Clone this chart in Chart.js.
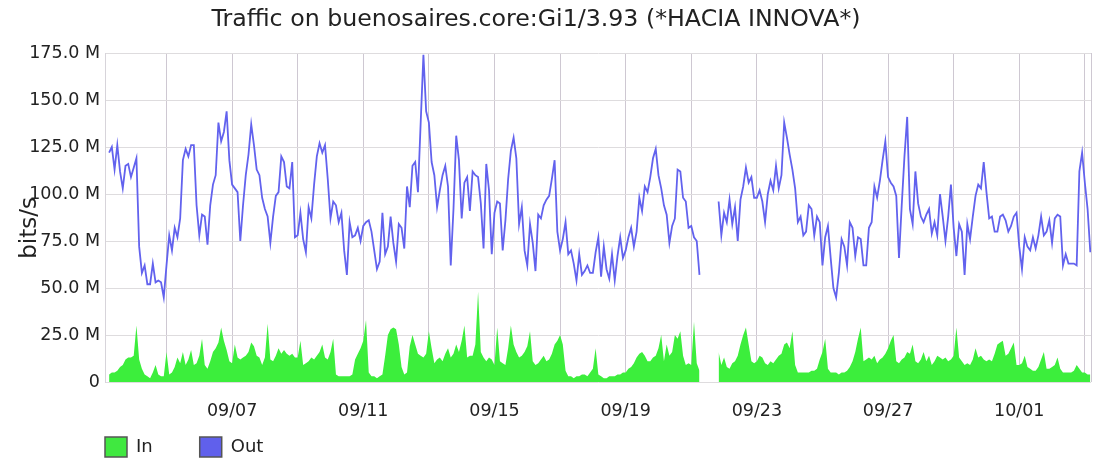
<!DOCTYPE html>
<html>
<head>
<meta charset="utf-8">
<title>Traffic on buenosaires.core:Gi1/3.93</title>
<script src="https://cdn.jsdelivr.net/npm/chart.js@4/dist/chart.umd.min.js"></script>
<style>
  html, body { margin: 0; padding: 0; background: #fff; }
</style>
</head>
<body>
<canvas id="trafficChart" width="1094" height="460"></canvas>
<script>
// samples every 2 hours, first one at 09/03 06:00 (hours counted from 09/03 00:00)
var firstSampleHour = 6;
var sampleStepHours = 2;

// Mbit/s, one row per day
var inTraffic = [
  4, 5, 5, 6, 8, 9, 12, 13, 13, 14, 30, 12,
  7, 4, 3, 2, 5, 9, 4, 3, 3, 16, 4, 5,
  8, 13, 10, 16, 9, 12, 17, 9, 10, 14, 23, 9,
  7, 11, 16, 18, 21, 29, 22, 17, 11, 10, 20, 13,
  12, 13, 14, 16, 21, 19, 14, 13, 9, 13, 31, 12,
  11, 14, 18, 15, 17, 15, 14, 15, 13, 13, 22, 9,
  10, 11, 13, 12, 14, 16, 20, 13, 12, 16, 23, 4,
  3, 3, 3, 3, 3, 4, 12, 15, 18, 22, 33, 5,
  3, 3, 2, 3, 4, 14, 25, 28, 29, 28, 20, 8,
  4, 5, 19, 25, 20, 15, 14, 13, 15, 27, 18, 10,
  12, 13, 11, 15, 18, 13, 15, 20, 16, 22, 30, 13,
  14, 14, 20, 48, 16, 13, 11, 13, 12, 9, 29, 11,
  10, 9, 18, 30, 20, 16, 13, 14, 16, 19, 27, 11,
  9, 10, 12, 14, 11, 12, 15, 20, 22, 25, 20, 6,
  3, 3, 2, 3, 3, 4, 4, 3, 5, 7, 18, 4,
  3, 2, 2, 3, 3, 3, 4, 4, 5, 5, 7, 8,
  10, 13, 15, 16, 14, 11, 11, 13, 14, 18, 25, 11,
  20, 14, 16, 25, 23, 27, 14, 9, 10, 9, 32, 10,
  6, null, null, null, null, null, null, 16, 9, 13, 8, 7,
  10, 11, 14, 20, 25, 29, 20, 11, 10, 11, 14, 13,
  10, 9, 11, 10, 12, 14, 15, 20, 21, 18, 27, 9,
  5, 5, 5, 5, 5, 6, 6, 7, 12, 16, 23, 7,
  5, 5, 5, 4, 5, 5, 6, 8, 11, 16, 23, 29,
  11, 12, 13, 12, 14, 10, 12, 13, 15, 18, 22, 25,
  11, 10, 12, 13, 16, 15, 20, 11, 10, 12, 16, 11,
  14, 9, 11, 14, 13, 12, 13, 11, 12, 14, 29, 13,
  11, 9, 10, 9, 12, 18, 13, 14, 12, 11, 12, 11,
  15, 20, 21, 22, 14, 15, 18, 21, 9, 9, 10, 14,
  8, 7, 6, 6, 8, 12, 16, 7, 7, 8, 9, 13,
  7, 5, 5, 5, 5, 6, 9, 7, 5, 5, 4, 4
];

var outTraffic = [
  122, 125, 113, 126, 112, 103, 115, 116, 109, 114, 119, 72,
  58, 62, 52, 52, 63, 53, 54, 53, 45, 62, 78, 70,
  82, 77, 87, 118, 124, 120, 126, 126, 94, 78, 89, 88,
  73, 94, 105, 110, 138, 128, 133, 144, 118, 105, 103, 101,
  75, 94, 110, 121, 137, 126, 113, 110, 98, 92, 88, 74,
  88, 99, 101, 120, 117, 104, 103, 117, 77, 78, 90, 76,
  69, 93, 87, 105, 120, 127, 122, 126, 108, 87, 96, 94,
  85, 90, 70, 57, 85, 77, 78, 82, 75, 83, 85, 86,
  80, 70, 60, 64, 90, 68, 72, 88, 74, 64, 84, 82,
  71, 104, 93, 115, 117, 101, 138, 174, 144, 138, 117, 110,
  93, 102, 110, 115, 104, 62, 92, 131, 118, 87, 106, 109,
  91, 112, 110, 109, 95, 71, 116, 102, 68, 90, 96, 95,
  70, 86, 108, 123, 130, 119, 84, 93, 70, 62, 84, 74,
  59, 89, 87, 94, 97, 99, 108, 118, 80, 70, 76, 85,
  68, 70, 63, 54, 68, 57, 59, 62, 58, 58, 69, 77,
  56, 72, 60, 55, 68, 54, 67, 77, 66, 70, 77, 82,
  72, 80, 98, 91, 104, 101, 109, 119, 124, 110, 103, 94,
  89, 74, 83, 87, 113, 112, 98, 96, 82, 83, 77, 75,
  57, null, null, null, null, null, null, 96, 78, 90, 85, 97,
  84, 93, 75, 97, 104, 114, 106, 109, 98, 98, 102, 96,
  85, 100, 107, 102, 115, 103, 110, 138, 130, 121, 113, 103,
  85, 88, 78, 80, 94, 92, 78, 88, 85, 62, 77, 83,
  66, 50, 45, 58, 76, 72, 62, 85, 82, 67, 77, 76,
  62, 62, 82, 85, 104, 98, 107, 118, 128, 109, 106, 104,
  99, 66, 94, 120, 141, 92, 84, 112, 95, 88, 85, 89,
  92, 79, 85, 78, 100, 88, 75, 88, 105, 82, 67, 84,
  80, 57, 84, 76, 88, 99, 105, 103, 117, 101, 87, 88,
  80, 80, 88, 89, 86, 80, 83, 88, 90, 72, 60, 77,
  72, 70, 77, 71, 78, 88, 78, 80, 86, 74, 87, 89,
  88, 62, 68, 63, 63, 63, 62, 112, 122, 106, 92, 69
];

// x axis: vertical grid every two days, labels every four days
var gridHours = [48, 96, 144, 192, 240, 288, 336, 384, 432, 480, 528, 576, 624, 672, 720, 724.5];
var dateHours = [96, 192, 288, 384, 480, 576, 672];
var dateLabels = ["09/07", "09/11", "09/15", "09/19", "09/23", "09/27", "10/01"];

var chartTitle = "Traffic on buenosaires.core:Gi1/3.93 (*HACIA INNOVA*)";
var FONT = "DejaVu Sans";

function toPoints(values) {
  return values.map(function (v, i) {
    return { x: firstSampleHour + i * sampleStepHours, y: v };
  });
}

// title, rotated unit label and the legend boxes under the plot
var extrasPlugin = {
  id: "extras",
  afterDraw: function (chart) {
    var ctx = chart.ctx;
    ctx.save();
    ctx.fillStyle = "#222";
    ctx.textAlign = "center";
    ctx.textBaseline = "middle";
    ctx.font = "23.7px '" + FONT + "'";
    ctx.fillText(chartTitle, 536, 20);
    ctx.font = "23px '" + FONT + "'";
    ctx.translate(30, 228);
    ctx.rotate(-Math.PI / 2);
    ctx.fillText("bits/s", 0, 0);
    ctx.restore();

    ctx.save();
    ctx.font = "18px '" + FONT + "'";
    ctx.textBaseline = "middle";
    var x = chart.chartArea.left;
    var y = 447;
    chart.data.datasets.slice().reverse().forEach(function (ds) {
      ctx.fillStyle = ds.legendColor;
      ctx.fillRect(x, y - 10, 22, 20);
      ctx.strokeStyle = "#555";
      ctx.lineWidth = 1.5;
      ctx.strokeRect(x, y - 10, 22, 20);
      ctx.fillStyle = "#222";
      ctx.fillText(ds.label, x + 31, y);
      x += 31 + ctx.measureText(ds.label).width + 47;
    });
    ctx.restore();
  }
};

var ctx = document.getElementById("trafficChart").getContext("2d");
var trafficChart = new Chart(ctx, {
  type: "line",
  data: {
    datasets: [
      {
        label: "Out",
        data: toPoints(outTraffic),
        borderColor: "rgb(98, 98, 238)",
        borderWidth: 1.8,
        fill: false,
        pointRadius: 0,
        tension: 0,
        legendColor: "rgb(96, 96, 236)",
      },
      {
        label: "In",
        data: toPoints(inTraffic),
        borderWidth: 0,
        borderColor: "rgba(0,0,0,0)",
        backgroundColor: "rgb(60, 238, 60)",
        fill: "origin",
        pointRadius: 0,
        tension: 0,
        legendColor: "rgb(64, 232, 64)",
      },
    ],
  },
  options: {
    responsive: false,
    animation: false,
    devicePixelRatio: 1,
    layout: { padding: { left: 0, right: 3, top: 53, bottom: 38 } },
    plugins: {
      legend: { display: false },
      tooltip: { enabled: false },
      title: { display: false },
    },
    scales: {
      x: {
        type: "linear",
        min: 3,
        max: 724.5,
        afterBuildTicks: function (scale) {
          scale.ticks = gridHours.map(function (h) { return { value: h }; });
        },
        afterFit: function (scale) {
          scale.height = 40;
          scale.paddingLeft = 0;
          scale.paddingRight = 0;
        },
        grid: { color: "rgb(206, 200, 210)", drawTicks: false },
        border: { display: false },
        ticks: {
          autoSkip: false,
          maxRotation: 0,
          padding: 19,
          color: "#222",
          font: { family: FONT, size: 17.5 },
          callback: function (value) {
            var k = dateHours.indexOf(value);
            return k >= 0 ? dateLabels[k] : "";
          },
        },
      },
      y: {
        min: 0,
        max: 175,
        afterFit: function (scale) { scale.width = 105; },
        grid: { color: "rgb(222, 220, 222)", drawTicks: false },
        border: { display: true, color: "rgb(215, 212, 218)" },
        ticks: {
          stepSize: 12.5,
          padding: 5,
          color: "#222",
          font: { family: FONT, size: 17.5 },
          callback: function (value) {
            if (value % 25 !== 0) return "";
            return value === 0 ? "0" : value.toFixed(1) + " M";
          },
        },
      },
    },
  },
  plugins: [extrasPlugin],
});
</script>
</body>
</html>
